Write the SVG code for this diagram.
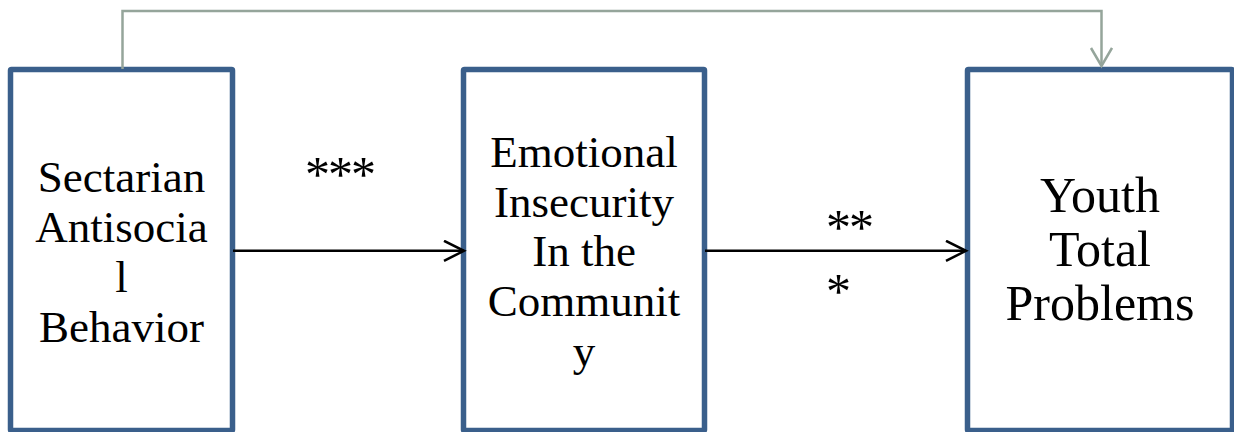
<svg xmlns="http://www.w3.org/2000/svg" width="1234" height="432" viewBox="0 0 1234 432">
<defs>
<style>
.box{fill:#ffffff;stroke:#3a5f8b;stroke-width:5.5}
.t{font-family:"Liberation Serif","Times New Roman",serif;fill:#000;text-anchor:middle}
.star{font-family:"Liberation Serif","Times New Roman",serif;fill:#000;font-size:50px;letter-spacing:-2px}
.arr{fill:none;stroke:#000;stroke-width:2.5}
.fb{fill:none;stroke:#95a59b;stroke-width:2.5}
</style>
<marker id="ahB" markerUnits="userSpaceOnUse" markerWidth="24" markerHeight="24" refX="21" refY="11" orient="auto" viewBox="0 0 24 24">
<path d="M1,1 L21,11 L1,21" fill="none" stroke="#000" stroke-width="2.5"/>
</marker>
<marker id="ahG" markerUnits="userSpaceOnUse" markerWidth="24" markerHeight="26" refX="19" refY="11.5" orient="auto" viewBox="0 0 24 26">
<path d="M1,1 L19,11.5 L1,22" fill="none" stroke="#95a59b" stroke-width="2.5"/>
</marker>
</defs>
<rect width="1234" height="432" fill="#ffffff"/>
<g id="n1">
<rect class="box" x="10.5" y="69.5" width="222" height="361" rx="1"/>
<text class="t" font-size="45" x="121.5" y="192">Sectarian</text>
<text class="t" font-size="45" x="121.5" y="242">Antisocia</text>
<text class="t" font-size="45" x="121.5" y="292">l</text>
<text class="t" font-size="45" x="121.5" y="342">Behavior</text>
</g>
<g id="n2">
<rect class="box" x="463.5" y="69.5" width="241" height="361" rx="1"/>
<text class="t" font-size="45" x="584" y="167">Emotional</text>
<text class="t" font-size="45" x="584" y="217">Insecurity</text>
<text class="t" font-size="45" x="584" y="266">In the</text>
<text class="t" font-size="45" x="584" y="316">Communit</text>
<text class="t" font-size="45" x="584" y="366">y</text>
</g>
<g id="n3">
<rect class="box" x="967.5" y="69.5" width="265" height="361" rx="1"/>
<text class="t" font-size="50" x="1100" y="212">Youth</text>
<text class="t" font-size="50" x="1100" y="266">Total</text>
<text class="t" font-size="50" x="1100" y="320">Problems</text>
</g>
<g id="connectors">
<path class="fb" d="M122.5,69 V11 H1101.5 V66" marker-end="url(#ahG)"/>
<path class="arr" d="M233,250.8 H464" marker-end="url(#ahB)"/>
<path class="arr" d="M705,250.8 H966" marker-end="url(#ahB)"/>
<text class="star" x="305" y="191">***</text>
<text class="star" x="826" y="244">**</text>
<text class="star" x="826" y="308">*</text>
</g>
</svg>
